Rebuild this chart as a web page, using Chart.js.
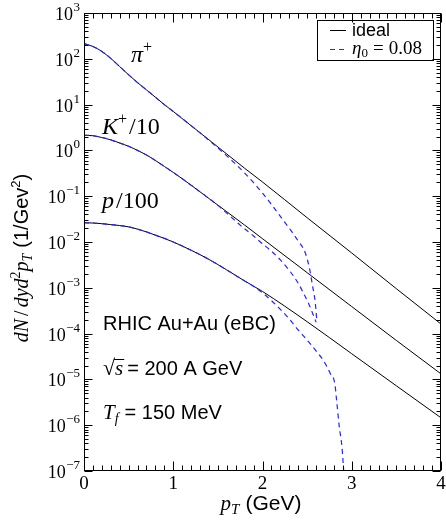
<!DOCTYPE html>
<html><head><meta charset="utf-8">
<script src="https://cdn.jsdelivr.net/npm/chart.js@4.4.1/dist/chart.umd.min.js"></script>
<style>html,body{margin:0;padding:0;background:#fff;}#wrap{width:446px;height:522px;}</style>
</head><body><div id="wrap"><canvas id="c" width="446" height="522"></canvas></div>
<script>
// ---- data (pT in GeV, dN/dy d^2pT in 1/GeV^2) ----
const ptIdeal = [0,0.1,0.2,0.3,0.4,0.5,0.6,0.7,0.8,0.9,1.0,1.2,1.4,1.6,1.8,2.0,2.5,3.0,3.5,4.0];
const pionIdeal = [214,186,145,102,67.6,44.7,30.2,20.9,14.5,10.0,7.08,3.47,1.70,0.832,0.407,0.204,0.0339,0.00575,9.55e-4,1.62e-4];
const kaonIdeal = [2.14,2.09,1.91,1.70,1.45,1.23,1.00,0.794,0.603,0.447,0.331,0.174,0.0891,0.0457,0.0234,0.0118,0.00214,3.89e-4,7.08e-5,1.32e-5];
const protonIdeal = [0.0263,0.0260,0.0251,0.0240,0.0229,0.0214,0.0191,0.0166,0.0141,0.0120,0.0100,0.00661,0.00417,0.00245,0.00141,8.32e-4,1.82e-4,3.63e-5,7.24e-6,1.45e-6];

const ptPionVisc = [0,0.1,0.2,0.3,0.4,0.5,0.6,0.7,0.8,0.9,1.0,1.2,1.4,1.6,1.8,2.0,2.2,2.33,2.4,2.48,2.53,2.56,2.59,2.61];
const pionVisc = [214,186,145,102,67.6,44.7,30.2,20.9,14.5,10.0,7.08,3.47,1.66,0.760,0.320,0.117,0.0363,0.0166,0.0105,0.00575,0.00245,0.00112,5.01e-4,1.78e-4];
const ptKaonVisc = [0,0.1,0.2,0.3,0.4,0.5,0.6,0.7,0.8,0.9,1.0,1.2,1.4,1.5,1.6,1.75,1.9,2.0,2.1,2.2,2.3,2.4,2.46,2.52,2.56,2.60];
const kaonVisc = [2.14,2.09,1.91,1.70,1.45,1.23,1.00,0.794,0.603,0.447,0.331,0.174,0.0891,0.0631,0.0427,0.0234,0.0135,0.00912,0.00631,0.00407,0.00240,0.00126,7.59e-4,4.37e-4,2.82e-4,1.78e-4];
const ptProtonVisc = [0,0.1,0.2,0.3,0.4,0.5,0.6,0.7,0.8,0.9,1.0,1.2,1.4,1.6,1.8,1.9,2.0,2.1,2.2,2.3,2.4,2.5,2.6,2.68,2.76,2.81,2.83,2.86,2.89,2.92];
const protonVisc = [0.0263,0.0260,0.0251,0.0240,0.0229,0.0214,0.0191,0.0166,0.0141,0.0120,0.0100,0.00661,0.00417,0.00245,0.00141,0.00107,7.76e-4,5.25e-4,3.39e-4,2.09e-4,1.20e-4,7.24e-5,4.17e-5,2.63e-5,1.35e-5,8.13e-6,3.55e-6,9.33e-7,3.39e-7,5.01e-8];

const xTicks = [0,1,2,3,4];
const yDecades = [-7,-6,-5,-4,-3,-2,-1,0,1,2,3];
const legendLabels = ['ideal','η0 = 0.08'];

const pts = (xs, ys) => xs.map((x,i)=>({x, y: ys[i]}));
const BLUE = '#2424ff';
const SERIF = '"Liberation Serif", "DejaVu Serif", serif';
const SANS = '"Liberation Sans", Arial, sans-serif';

function solid(data){return {data, borderColor:'#000', borderWidth:1, pointRadius:0, cubicInterpolationMode:'monotone', fill:false};}
function dashed(data){return {data, borderColor:BLUE, borderWidth:1.2, borderDash:[5,4], pointRadius:0, cubicInterpolationMode:'monotone', fill:false};}

function rich(ctx, x, y, segs, align){
  let w = 0;
  segs.forEach(s=>{ctx.font=s.f; s.w=ctx.measureText(s.t).width; w+=s.w + (s.gap||0);});
  let cx = align==='center' ? x - w/2 : (align==='right' ? x - w : x);
  ctx.textAlign='left'; ctx.textBaseline='alphabetic';
  segs.forEach(s=>{ctx.font=s.f; ctx.fillStyle=s.c||'#000'; ctx.fillText(s.t, cx, y+(s.dy||0)); s.x=cx; cx+=s.w+(s.gap||0);});
  return segs;
}

const decor = {
  id:'decor',
  afterDraw(chart){
    const ctx = chart.ctx, a = chart.chartArea, xs = chart.scales.x, ys = chart.scales.y;
    ctx.save();
    ctx.strokeStyle='#000'; ctx.lineWidth=1;
    ctx.strokeRect(Math.round(a.left)+0.5, Math.round(a.top)+0.5, Math.round(a.right-a.left)-1, Math.round(a.bottom-a.top)-1);
    const L = Math.round(a.left)+0.5, R = Math.round(a.right)-0.5, T = Math.round(a.top)+0.5, B = Math.round(a.bottom)-0.5;
    ctx.beginPath();
    for(let i=0;i<=40;i++){
      const px = Math.round(xs.getPixelForValue(i/10))+0.5;
      const len = (i%10===0)?9:5;
      ctx.moveTo(px,B); ctx.lineTo(px,B-len);
      ctx.moveTo(px,T); ctx.lineTo(px,T+len);
    }
    for(const e of yDecades){
      for(let m=1;m<=9;m++){
        if(e===3 && m>1) break;
        const py = Math.round(ys.getPixelForValue(m*Math.pow(10,e)))+0.5;
        const len = m===1?8:4;
        ctx.moveTo(L,py); ctx.lineTo(L+len,py);
        ctx.moveTo(R,py); ctx.lineTo(R-len,py);
      }
    }
    ctx.stroke();
    // y tick labels
    ctx.fillStyle='#000';
    for(const e of yDecades){
      const py = ys.getPixelForValue(Math.pow(10,e));
      const ex = (e<0?'\u2212':'')+Math.abs(e);
      ctx.font='13px '+SERIF; const ew = ctx.measureText(ex).width;
      ctx.textAlign='right'; ctx.textBaseline='alphabetic';
      ctx.fillText(ex, 80, py-2);
      ctx.font='18px '+SERIF;
      ctx.fillText('10', 80-ew-0.5, py+7);
    }
    // x tick labels
    ctx.font='19px '+SERIF; ctx.textAlign='center';
    for(const t of xTicks){ ctx.fillText(String(t), xs.getPixelForValue(t), 489); }
    // x title
    rich(ctx, 261, 510, [
      {t:'p', f:'italic 21px '+SERIF},
      {t:'T', f:'italic 15px '+SERIF, dy:4, gap:6},
      {t:'(GeV)', f:'21px '+SANS}
    ], 'center');
    // y title (rotated)
    ctx.save();
    ctx.translate(28, 258); ctx.rotate(-Math.PI/2);
    rich(ctx, 0, 0, [
      {t:'dN', f:'italic 20px '+SERIF, gap:3},
      {t:'/', f:'20px '+SERIF, gap:3},
      {t:'dyd', f:'italic 20px '+SERIF},
      {t:'2', f:'14px '+SERIF, dy:-8},
      {t:'p', f:'italic 20px '+SERIF},
      {t:'T', f:'italic 14px '+SERIF, dy:4, gap:6},
      {t:'(1/Gev', f:'20px '+SANS},
      {t:'2', f:'13px '+SANS, dy:-8},
      {t:')', f:'20px '+SANS}
    ], 'center');
    ctx.restore();
    // species labels
    rich(ctx, 131, 62, [{t:'π', f:'italic 24px '+SERIF},{t:'+', f:'16px '+SERIF, dy:-10}]);
    rich(ctx, 102, 134, [{t:'K', f:'italic 24px '+SERIF},{t:'+', f:'16px '+SERIF, dy:-10, gap:2},{t:'/10', f:'24px '+SERIF}]);
    rich(ctx, 102, 208, [{t:'p', f:'italic 24px '+SERIF, gap:2},{t:'/100', f:'24px '+SERIF}]);
    // conditions
    ctx.fillStyle='#000'; ctx.textAlign='left';
    ctx.font='20px '+SANS; ctx.fillText('RHIC Au+Au (eBC)', 103, 330);
    const sq = rich(ctx, 103, 375, [{t:'√', f:'22px '+SERIF},{t:'s', f:'italic 21px '+SERIF, gap:4},{t:'= 200 A GeV', f:'20px '+SANS}]);
    ctx.beginPath(); ctx.lineWidth=1; ctx.moveTo(sq[1].x-1, 359.5); ctx.lineTo(sq[1].x+sq[1].w+1, 359.5); ctx.stroke();
    rich(ctx, 103, 419, [{t:'T', f:'italic 21px '+SERIF},{t:'f', f:'italic 14px '+SERIF, dy:4, gap:6},{t:'= 150 MeV', f:'20px '+SANS}]);
    // legend
    ctx.strokeStyle='#000'; ctx.lineWidth=1;
    ctx.strokeRect(317.5, 20.5, 116, 40);
    ctx.beginPath(); ctx.moveTo(330,30.5); ctx.lineTo(346,30.5); ctx.stroke();
    ctx.fillStyle='#000'; ctx.font='18px '+SANS; ctx.textAlign='left';
    ctx.fillText(legendLabels[0], 352, 36);
    ctx.save(); ctx.strokeStyle=BLUE; ctx.lineWidth=1.2; ctx.setLineDash([5,4]);
    ctx.beginPath(); ctx.moveTo(330,49.5); ctx.lineTo(347,49.5); ctx.stroke(); ctx.restore();
    rich(ctx, 352, 54, [{t:'η', f:'italic 19px '+SERIF},{t:'0', f:'13px '+SERIF, dy:3, gap:5},{t:'=', f:'19px '+SERIF, gap:5},{t:'0.08', f:'19px '+SERIF}]);
    ctx.restore();
  }
};

new Chart(document.getElementById('c'), {
  type:'line',
  data:{datasets:[
    dashed(pts(ptPionVisc, pionVisc)),
    dashed(pts(ptKaonVisc, kaonVisc)),
    dashed(pts(ptProtonVisc, protonVisc)),
    solid(pts(ptIdeal, pionIdeal)),
    solid(pts(ptIdeal, kaonIdeal)),
    solid(pts(ptIdeal, protonIdeal))
  ]},
  options:{
    responsive:false, animation:false, devicePixelRatio:1,
    layout:{padding:{left:84, right:5, top:13, bottom:51}},
    scales:{
      x:{type:'linear', min:0, max:4, display:false},
      y:{type:'logarithmic', min:1e-7, max:1e3, display:false}
    },
    plugins:{legend:{display:false}, tooltip:{enabled:false}},
    elements:{point:{radius:0}}
  },
  plugins:[decor]
});
</script>
</body></html>
